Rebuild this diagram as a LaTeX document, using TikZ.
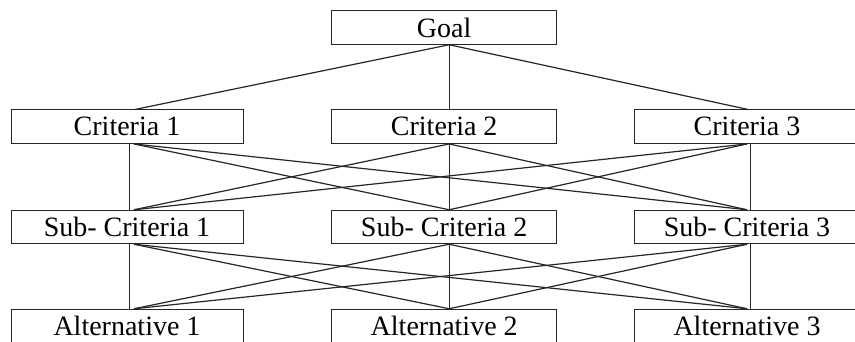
\documentclass[tikz,border=0pt]{standalone}
\usepackage{fontspec}
\setmainfont{Liberation Serif}
\begin{document}
\begin{tikzpicture}[x=1pt,y=-1pt,
  box/.style={draw=black!85,line width=1pt,rectangle,inner sep=0pt,minimum height=33.5pt,
    font=\fontsize{28}{30}\selectfont},
  wA/.style={minimum width=232pt},
  wB/.style={minimum width=225pt},
  link/.style={draw=black!85,line width=1.2pt},
  vlink/.style={draw=black!85,line width=0.9pt}]
\useasboundingbox (0,0) rectangle (855,341);
\begin{scope}
\clip (0,0) rectangle (855,341);
\node[box,wB] (goal) at (444.2,27.5) {Goal};
\node[box,wA] (c1) at (127,126.7) {Criteria 1};
\node[box,wB] (c2) at (444.2,126.7) {Criteria 2};
\node[box,wB] (c3) at (747,126.7) {Criteria 3};
\node[box,wA] (s1) at (127,227) {Sub- Criteria 1};
\node[box,wB] (s2) at (444.2,227) {Sub- Criteria 2};
\node[box,wB] (s3) at (747,227) {Sub- Criteria 3};
\node[box,wA] (a1) at (127,326) {Alternative 1};
\node[box,wB] (a2) at (444.2,326) {Alternative 2};
\node[box,wB] (a3) at (747,326) {Alternative 3};
\end{scope}
% goal to criteria
\draw[link] ([xshift=5pt]goal.south) -- ([xshift=8pt]c1.north);
\draw[vlink] ([xshift=5pt]goal.south) -- ([xshift=5pt]c2.north);
\draw[link] ([xshift=5pt]goal.south) -- ([xshift=1pt]c3.north);
% criteria to sub-criteria and sub-criteria to alternatives
\foreach \u/\l in {c/s,s/a}{
  \draw[vlink] ([xshift=2pt]\u1.south) -- ([xshift=2pt]\l1.north);
  \draw[vlink] ([xshift=5pt]\u2.south) -- ([xshift=5pt]\l2.north);
  \draw[vlink] ([xshift=3pt]\u3.south) -- ([xshift=3pt]\l3.north);
  \draw[link] ([xshift=7pt]\u1.south) -- ([xshift=5pt]\l2.north);
  \draw[link] ([xshift=7pt]\u1.south) -- ([xshift=0pt]\l3.north);
  \draw[link] ([xshift=5pt]\u2.south) -- ([xshift=7pt]\l1.north);
  \draw[link] ([xshift=5pt]\u2.south) -- ([xshift=0pt]\l3.north);
  \draw[link] ([xshift=0pt]\u3.south) -- ([xshift=7pt]\l1.north);
  \draw[link] ([xshift=0pt]\u3.south) -- ([xshift=5pt]\l2.north);
}
\end{tikzpicture}
\end{document}
